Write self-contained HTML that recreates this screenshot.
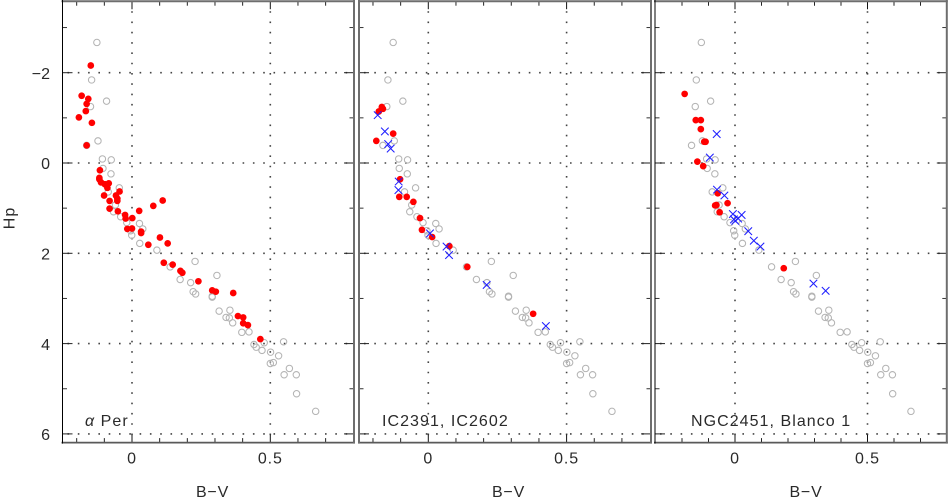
<!DOCTYPE html>
<html>
<head>
<meta charset="utf-8">
<title>Colour-magnitude diagrams</title>
<style>
html,body{margin:0;padding:0;background:#fff;width:948px;height:498px;overflow:hidden}
svg{display:block}
text{font-family:"Liberation Sans",sans-serif;fill:#2a2a2a;font-size:16px}
</style>
</head>
<body>
<svg id="chart" xmlns="http://www.w3.org/2000/svg" width="948" height="498" viewBox="0 0 948 498">
<text transform="translate(14.5,218) rotate(-90)" text-anchor="middle" style="letter-spacing:1px">Hp</text>
</svg>
<script>
var grayBV = [-0.127,-0.146,-0.092,-0.15,-0.123,-0.164,-0.107,-0.075,-0.105,-0.076,-0.046,-0.086,-0.06,-0.067,-0.041,-0.019,0.027,0.039,-0.005,-0.001,0.028,0.09,0.138,0.228,0.174,0.307,0.212,0.221,0.23,0.29,0.29,0.315,0.354,0.34,0.352,0.364,0.397,0.423,0.441,0.449,0.478,0.47,0.501,0.548,0.53,0.5,0.511,0.569,0.55,0.594,0.595,0.664];
var grayHp = [-2.67,-1.84,-1.37,-1.25,-0.49,-0.39,-0.09,-0.07,0.12,0.24,0.55,0.64,0.93,1.08,1.19,1.32,1.34,1.46,1.5,1.6,1.78,1.93,2.3,2.18,2.58,2.49,2.65,2.85,2.9,2.95,2.97,3.28,3.26,3.42,3.43,3.54,3.75,3.74,4.02,4.08,3.98,4.15,4.19,3.96,4.27,4.44,4.42,4.55,4.69,4.69,5.11,5.5];

var redBV1 = [-0.149,-0.182,-0.158,-0.164,-0.167,-0.192,-0.145,-0.164,-0.116,-0.118,-0.118,-0.112,-0.098,-0.084,-0.089,-0.101,-0.045,-0.058,-0.053,-0.053,-0.081,-0.081,-0.051,-0.025,-0.023,0.001,0.026,0.077,0.111,-0.017,0,0.033,0.033,0.059,0.101,0.129,0.115,0.147,0.175,0.182,0.24,0.29,0.303,0.366,0.383,0.402,0.402,0.419,0.464];
var redHp1 = [-2.16,-1.49,-1.42,-1.31,-1.15,-1.01,-0.89,-0.39,0.16,0.33,0.36,0.43,0.47,0.45,0.55,0.72,0.63,0.72,0.79,0.84,0.84,1.01,1.07,1.15,1.23,1.22,1.06,0.95,0.83,1.46,1.45,1.52,1.55,1.81,1.65,1.78,2.21,2.25,2.39,2.43,2.62,2.82,2.85,2.88,3.39,3.42,3.55,3.59,3.9];

var redBV2 = [-0.168,-0.164,-0.179,-0.127,-0.188,-0.102,-0.105,-0.078,-0.054,-0.03,-0.023,0.014,0.076,0.141,0.379];
var redHp2 = [-1.24,-1.2,-1.14,-0.65,-0.49,0.36,0.75,0.75,0.86,1.22,1.48,1.64,1.84,2.3,3.34];
var blueBV2 = [-0.183,-0.157,-0.145,-0.136,-0.107,-0.108,0.006,0.066,0.075,0.211,0.425];
var blueHp2 = [-1.06,-0.7,-0.42,-0.32,0.41,0.6,1.56,1.85,2.04,2.7,3.61];

var redBV3 = [-0.19,-0.148,-0.129,-0.129,-0.116,-0.111,-0.142,-0.12,-0.065,-0.028,-0.075,-0.07,-0.058,0.184];
var redHp3 = [-1.53,-0.95,-0.95,-0.75,-0.47,-0.47,-0.03,0.07,0.67,0.89,0.94,0.93,1.09,2.33];
var blueBV3 = [-0.069,-0.095,-0.068,-0.04,-0.008,0.025,-0.004,0.012,0.001,0.05,0.071,0.096,0.296,0.342];
var blueHp3 = [-0.64,-0.12,0.59,0.72,1.13,1.15,1.25,1.23,1.28,1.51,1.72,1.85,2.67,2.83];

var xMajorTicks = [0,0.5];
var xMinorTicks = [-0.2,-0.1,0.1,0.2,0.3,0.4,0.6,0.7];
var xTickLabels = ['0','0.5'];
var yMajorTicks = [-2,0,2,4,6];
var yMinorTicks = [-3,-1,1,3,5];
var yTickLabels = ['\u22122','0','2','4','6'];
var panelLabels = ['Per','IC2391, IC2602','NGC2451, Blanco 1'];

var NS = 'http://www.w3.org/2000/svg';
var svg = document.getElementById('chart');
var TOP = 1.2, BOTTOM = 442.6;

function yScale(v){ return 163 + 45.15 * v; }
function makeX(x0, k){ return function(v){ return x0 + k * v; }; }

function el(tag, attrs, parent){
  var e = document.createElementNS(NS, tag);
  for (var a in attrs) e.setAttribute(a, attrs[a]);
  (parent || svg).appendChild(e);
  return e;
}
function line(g, x1, y1, x2, y2, color, w, dash){
  var l = el('line', {x1:x1, y1:y1, x2:x2, y2:y2, stroke:color, 'stroke-width':w}, g);
  if (dash) l.setAttribute('stroke-dasharray', dash);
  return l;
}

function drawPanel(id, left, right, x0, k, thinLeft, label, labelX, titleX, redX, redY, blueX, blueY){
  var xs = makeX(x0, k);
  var g = el('g', {});
  
  

  var grid = el('g', {}, g);
  
  
  xMajorTicks.forEach(function(v){
    line(grid, xs(v), TOP + 10, xs(v), BOTTOM, '#444', 1.6, '1.6 8.7');
  });
  yMajorTicks.forEach(function(v){
    line(grid, left + 5, yScale(v), right, yScale(v), '#444', 1.6, '1.6 8.7');
  });

  var ticks = el('g', {}, g);
  
  
  xMajorTicks.forEach(function(v){
    line(ticks, xs(v), TOP, xs(v), TOP + 8, '#111', 1);
    line(ticks, xs(v), BOTTOM, xs(v), BOTTOM - 8, '#111', 1);
  });
  xMinorTicks.forEach(function(v){
    line(ticks, xs(v), TOP, xs(v), TOP + 4.5, '#222', 1);
    line(ticks, xs(v), BOTTOM, xs(v), BOTTOM - 4.5, '#222', 1);
  });
  yMajorTicks.forEach(function(v){
    line(ticks, left, yScale(v), left + 10, yScale(v), '#222', 1);
    line(ticks, right, yScale(v), right - 10, yScale(v), '#222', 1);
  });
  yMinorTicks.forEach(function(v){
    line(ticks, left, yScale(v), left + 4.5, yScale(v), '#333', 1);
    line(ticks, right, yScale(v), right - 4.5, yScale(v), '#333', 1);
  });

  var grayG = el('g', {fill:'none', stroke:'#b4b4b4', 'stroke-width':1.05}, g);
  
  
  grayBV.forEach(function(v, i){
    var c = el('circle', {cx:xs(v), cy:yScale(grayHp[i]), r:3.2}, grayG);
    
    
  });

  var redG = el('g', {fill:'#ff0000'}, g);
  
  
  redX.forEach(function(v, i){
    var c = el('circle', {cx:xs(v), cy:yScale(redY[i]), r:3.35}, redG);
    
    
  });

  var blueG = el('g', {stroke:'#1f1fff', 'stroke-width':1.05, fill:'none'}, g);
  
  
  blueX.forEach(function(v, i){
    var px = xs(v), py = yScale(blueY[i]), s = 3.8;
    var p = el('path', {d:'M' + (px - s) + ' ' + (py - s) + 'L' + (px + s) + ' ' + (py + s) + 'M' + (px - s) + ' ' + (py + s) + 'L' + (px + s) + ' ' + (py - s)}, blueG);
    
    
  });

  var frame = el('g', {}, g);
  
  
  line(frame, left - 1, TOP, right + 1, TOP, '#6e6e6e', 2);
  line(frame, left - 1, BOTTOM, right + 1, BOTTOM, '#5a5a5a', 1.8);
  line(frame, right, 0, right, BOTTOM + 1, '#6e6e6e', 2);
  if (thinLeft) line(frame, left, 0, left, BOTTOM + 1, '#000', 1);
  else line(frame, left, 0, left, BOTTOM + 1, '#6e6e6e', 2);

  xMajorTicks.forEach(function(v, i){
    var t = el('text', {x:xs(v), y:463.5, 'text-anchor':'middle'}, g);
    
    
    t.style.letterSpacing = '0.9px';
    t.textContent = xTickLabels[i];
  });

  var pl = el('text', {x:labelX, y:426}, g);
  
  
  pl.style.letterSpacing = '1.05px';
  if (id === 1) {
    var greek = el('tspan', {'font-style':'italic'}, pl);
    greek.textContent = '\u03b1 ';
    var rest = el('tspan', {}, pl);
    rest.textContent = label;
  } else {
    pl.textContent = label;
  }

  var xt = el('text', {x:titleX, y:497, 'text-anchor':'middle'}, g);
  
  
  xt.style.letterSpacing = '0.8px';
  xt.textContent = 'B\u2212V';
}

yMajorTicks.forEach(function(v, i){
  var t = el('text', {x:50, y:yScale(v) + 6.2, 'text-anchor':'end'});
  
  
  t.textContent = yTickLabels[i];
});

drawPanel(1, 62.5, 354, 132, 276.6, true, panelLabels[0], 85, 212.5, redBV1, redHp1, [], []);
drawPanel(2, 359, 651, 428.3, 276.6, false, panelLabels[1], 382, 508.5, redBV2, redHp2, blueBV2, blueHp2);
drawPanel(3, 655, 946.8, 735, 265, true, panelLabels[2], 691, 806, redBV3, redHp3, blueBV3, blueHp3);
</script>
</body>
</html>
